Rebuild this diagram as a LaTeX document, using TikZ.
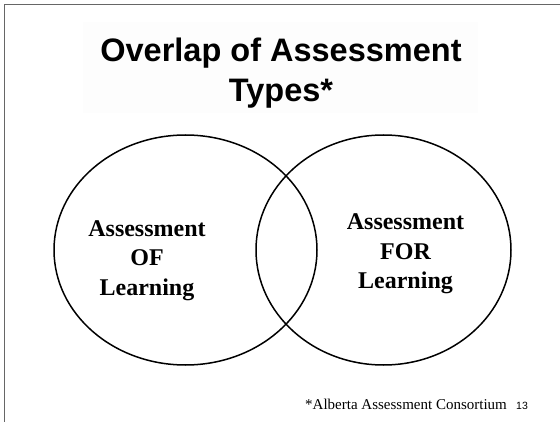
\documentclass[tikz,border=0pt]{standalone}
\usepackage{fontspec}
\setmainfont{Liberation Serif}
\setsansfont{Liberation Sans}
\begin{document}
\begin{tikzpicture}[x=1pt,y=-1pt,
  frameline/.style={draw=black!60,line width=1pt},
  ring/.style={draw=black,line width=1.5pt},
  titletext/.style={font=\sffamily\bfseries\fontsize{32.5}{40}\selectfont,align=center,inner sep=0pt},
  ringtext/.style={font=\bfseries\fontsize{24}{29.5}\selectfont,align=center,inner sep=0pt},
  foot/.style={font=\fontsize{15}{18}\selectfont,inner sep=0pt,anchor=base west},
  pagenum/.style={font=\sffamily\fontsize{10.5}{12}\selectfont,inner sep=0pt,anchor=base west}]
\useasboundingbox (0,0) rectangle (560,422);
\fill[white] (0,0) rectangle (560,422);
% frame
\coordinate (tl) at (4,5);
\coordinate (tr) at (560,5);
\coordinate (bl) at (4,422);
\draw[frameline] (tr) -- (tl) -- (bl);
% title background (very faint)
\fill[black!0.7] (83,22) rectangle (478,113);
\node[titletext] (title) at (281,73) {Overlap of Assessment\\Types*};
% circles
\draw[ring] (185.5,250) ellipse [x radius=131.5, y radius=115];
\draw[ring] (383.5,250) ellipse [x radius=127.5, y radius=115];
\node[ringtext] (of) at (147,260.6) {Assessment\\OF\\Learning};
\node[ringtext] (for) at (405.5,254.1) {Assessment\\FOR\\Learning};
% footnote
\node[foot] (src) at (305,409) {*Alberta Assessment Consortium};
\node[pagenum] (num) at (516,409) {13};
\end{tikzpicture}
\end{document}
